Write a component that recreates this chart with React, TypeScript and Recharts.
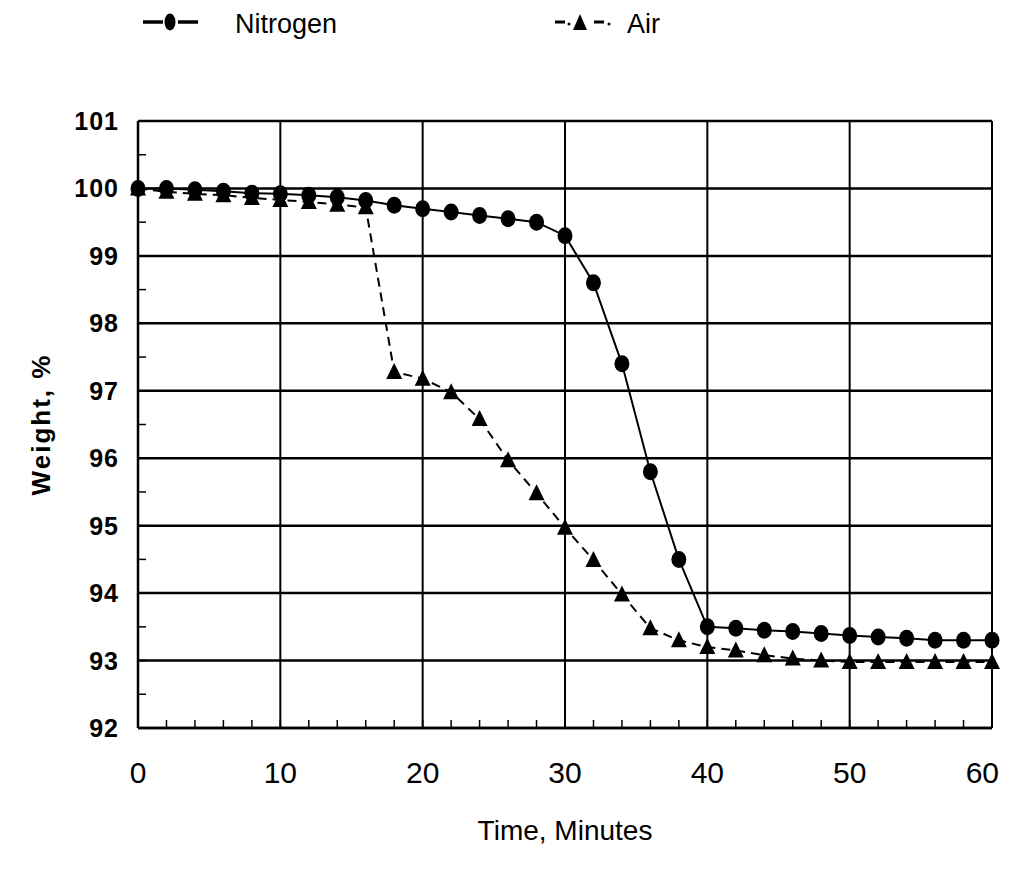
import React from "react";
import {
  LineChart,
  Line,
  XAxis,
  YAxis,
  ReferenceLine,
} from "recharts";

// time in minutes, one reading every 2 minutes
const minutes = [
  0, 2, 4, 6, 8, 10, 12, 14, 16, 18, 20, 22, 24, 26, 28, 30, 32, 34, 36, 38,
  40, 42, 44, 46, 48, 50, 52, 54, 56, 58, 60,
];

const nitrogen = [
  100.0, 100.0, 99.98, 99.96, 99.93, 99.92, 99.9, 99.87, 99.82, 99.75, 99.7,
  99.65, 99.6, 99.55, 99.5, 99.3, 98.6, 97.4, 95.8, 94.5, 93.5, 93.48, 93.45,
  93.43, 93.4, 93.37, 93.35, 93.33, 93.3, 93.3, 93.3,
];

const air = [
  100.0, 99.95, 99.92, 99.9, 99.86, 99.83, 99.8, 99.76, 99.72, 97.28, 97.18,
  96.98, 96.58, 95.97, 95.48, 94.97, 94.49, 93.98, 93.48, 93.3, 93.2, 93.15,
  93.08, 93.03, 93.0, 92.98, 92.98, 92.98, 92.98, 92.98, 92.98,
];

const xMajor = [0, 10, 20, 30, 40, 50, 60];
const yMajor = [92, 93, 94, 95, 96, 97, 98, 99, 100, 101];
const xMinor = minutes;
const yMinor = yMajor.flatMap((v) => (v < 101 ? [v, v + 0.5] : [v]));

const data = minutes.map((t, i) => ({ t, nitrogen: nitrogen[i], air: air[i] }));

const FONT = "'Liberation Sans', Arial, Helvetica, sans-serif";

const CircleDot = (props: any) => {
  const { cx, cy } = props;
  if (cx == null || cy == null) return null;
  return <ellipse cx={cx} cy={cy} rx={7.5} ry={8.5} fill="#000" />;
};

const TriangleDot = (props: any) => {
  const { cx, cy } = props;
  if (cx == null || cy == null) return null;
  return (
    <polygon
      points={`${cx},${cy - 9} ${cx - 8},${cy + 7} ${cx + 8},${cy + 7}`}
      fill="#000"
    />
  );
};

const XTick = (props: any) => {
  const { x, y, payload } = props;
  const v = payload.value;
  // the last label would run off the page edge, so pin it by its right side
  const last = v === xMajor[xMajor.length - 1];
  return (
    <g>
      <line x1={x} y1={y} x2={x} y2={y - 8} stroke="#000" strokeWidth={1.5} />
      {v % 10 === 0 && (
        <text
          x={last ? x + 7 : x}
          y={y + 55}
          textAnchor={last ? "end" : "middle"}
          fontFamily={FONT}
          fontSize={30}
          fill="#000"
        >
          {v}
        </text>
      )}
    </g>
  );
};

const YTick = (props: any) => {
  const { x, y, payload } = props;
  const v = payload.value;
  return (
    <g>
      <line x1={x} y1={y} x2={x + 8} y2={y} stroke="#000" strokeWidth={1.5} />
      {Number.isInteger(v) && (
        <text
          x={x - 19}
          y={y + 9}
          textAnchor="end"
          fontFamily={FONT}
          fontWeight="bold"
          fontSize={25}
          letterSpacing={1}
          fill="#000"
        >
          {v}
        </text>
      )}
    </g>
  );
};

const Legend = () => (
  <svg
    width={1003}
    height={50}
    style={{ position: "absolute", left: 0, top: 0 }}
  >
    {/* Nitrogen */}
    <line x1={135} y1={14} x2={155} y2={14} stroke="#000" strokeWidth={3.5} />
    <ellipse cx={162} cy={14} rx={5.5} ry={8.5} fill="#000" />
    <line x1={170} y1={14} x2={190} y2={14} stroke="#000" strokeWidth={3.5} />
    <text x={227} y={25} fontFamily={FONT} fontSize={27} fill="#000">
      Nitrogen
    </text>
    {/* Air */}
    <line x1={547} y1={14} x2={557} y2={14} stroke="#000" strokeWidth={3} />
    <circle cx={561} cy={16} r={1.5} fill="#000" />
    <polygon points="572,6 565,22 579,22" fill="#000" />
    <line x1={586} y1={14} x2={596} y2={14} stroke="#000" strokeWidth={3} />
    <circle cx={601} cy={16} r={1.5} fill="#000" />
    <text x={619} y={25} fontFamily={FONT} fontSize={27} fill="#000">
      Air
    </text>
  </svg>
);

export default function App() {
  return (
    <div style={{ position: "relative", width: 1003, height: 850 }}>
      <style>{`body{overflow:hidden} .recharts-surface{overflow:visible}`}</style>
      <Legend />
      <LineChart
        width={1003}
        height={850}
        data={data}
        margin={{ top: 113, right: 19, left: 30, bottom: 70 }}
      >
        {yMajor.map((v) => (
          <ReferenceLine key={`h${v}`} y={v} stroke="#000" strokeWidth={2.5} />
        ))}
        {xMajor.map((v) => (
          <ReferenceLine key={`v${v}`} x={v} stroke="#000" strokeWidth={2} />
        ))}
        <XAxis
          dataKey="t"
          type="number"
          domain={[0, 60]}
          ticks={xMinor}
          interval={0}
          height={60}
          tickSize={0}
          tickMargin={0}
          tickLine={false}
          axisLine={{ stroke: "#000", strokeWidth: 2.5 }}
          tick={<XTick />}
          label={(p: any) => {
            const vb = p.viewBox;
            return (
              <text
                x={vb.x + vb.width / 2}
                y={vb.y + 112}
                textAnchor="middle"
                fontFamily={FONT}
                fontSize={28}
                fill="#000"
              >
                Time, Minutes
              </text>
            );
          }}
        />
        <YAxis
          type="number"
          domain={[92, 101]}
          ticks={yMinor}
          interval={0}
          width={100}
          tickSize={0}
          tickMargin={0}
          tickLine={false}
          axisLine={{ stroke: "#000", strokeWidth: 2.5 }}
          tick={<YTick />}
          label={(p: any) => {
            const vb = p.viewBox;
            const cx = 42;
            const cy = vb.y + vb.height / 2;
            return (
              <text
                x={cx}
                y={cy}
                transform={`rotate(-90 ${cx} ${cy})`}
                textAnchor="middle"
                fontFamily={FONT}
                fontWeight="bold"
                fontSize={26}
                letterSpacing={2}
                fill="#000"
              >
                Weight, %
              </text>
            );
          }}
        />
        <Line
          dataKey="air"
          stroke="#000"
          strokeWidth={2}
          strokeDasharray="9 6"
          dot={<TriangleDot />}
          activeDot={false}
          isAnimationActive={false}
        />
        <Line
          dataKey="nitrogen"
          stroke="#000"
          strokeWidth={2}
          dot={<CircleDot />}
          activeDot={false}
          isAnimationActive={false}
        />
      </LineChart>
    </div>
  );
}
